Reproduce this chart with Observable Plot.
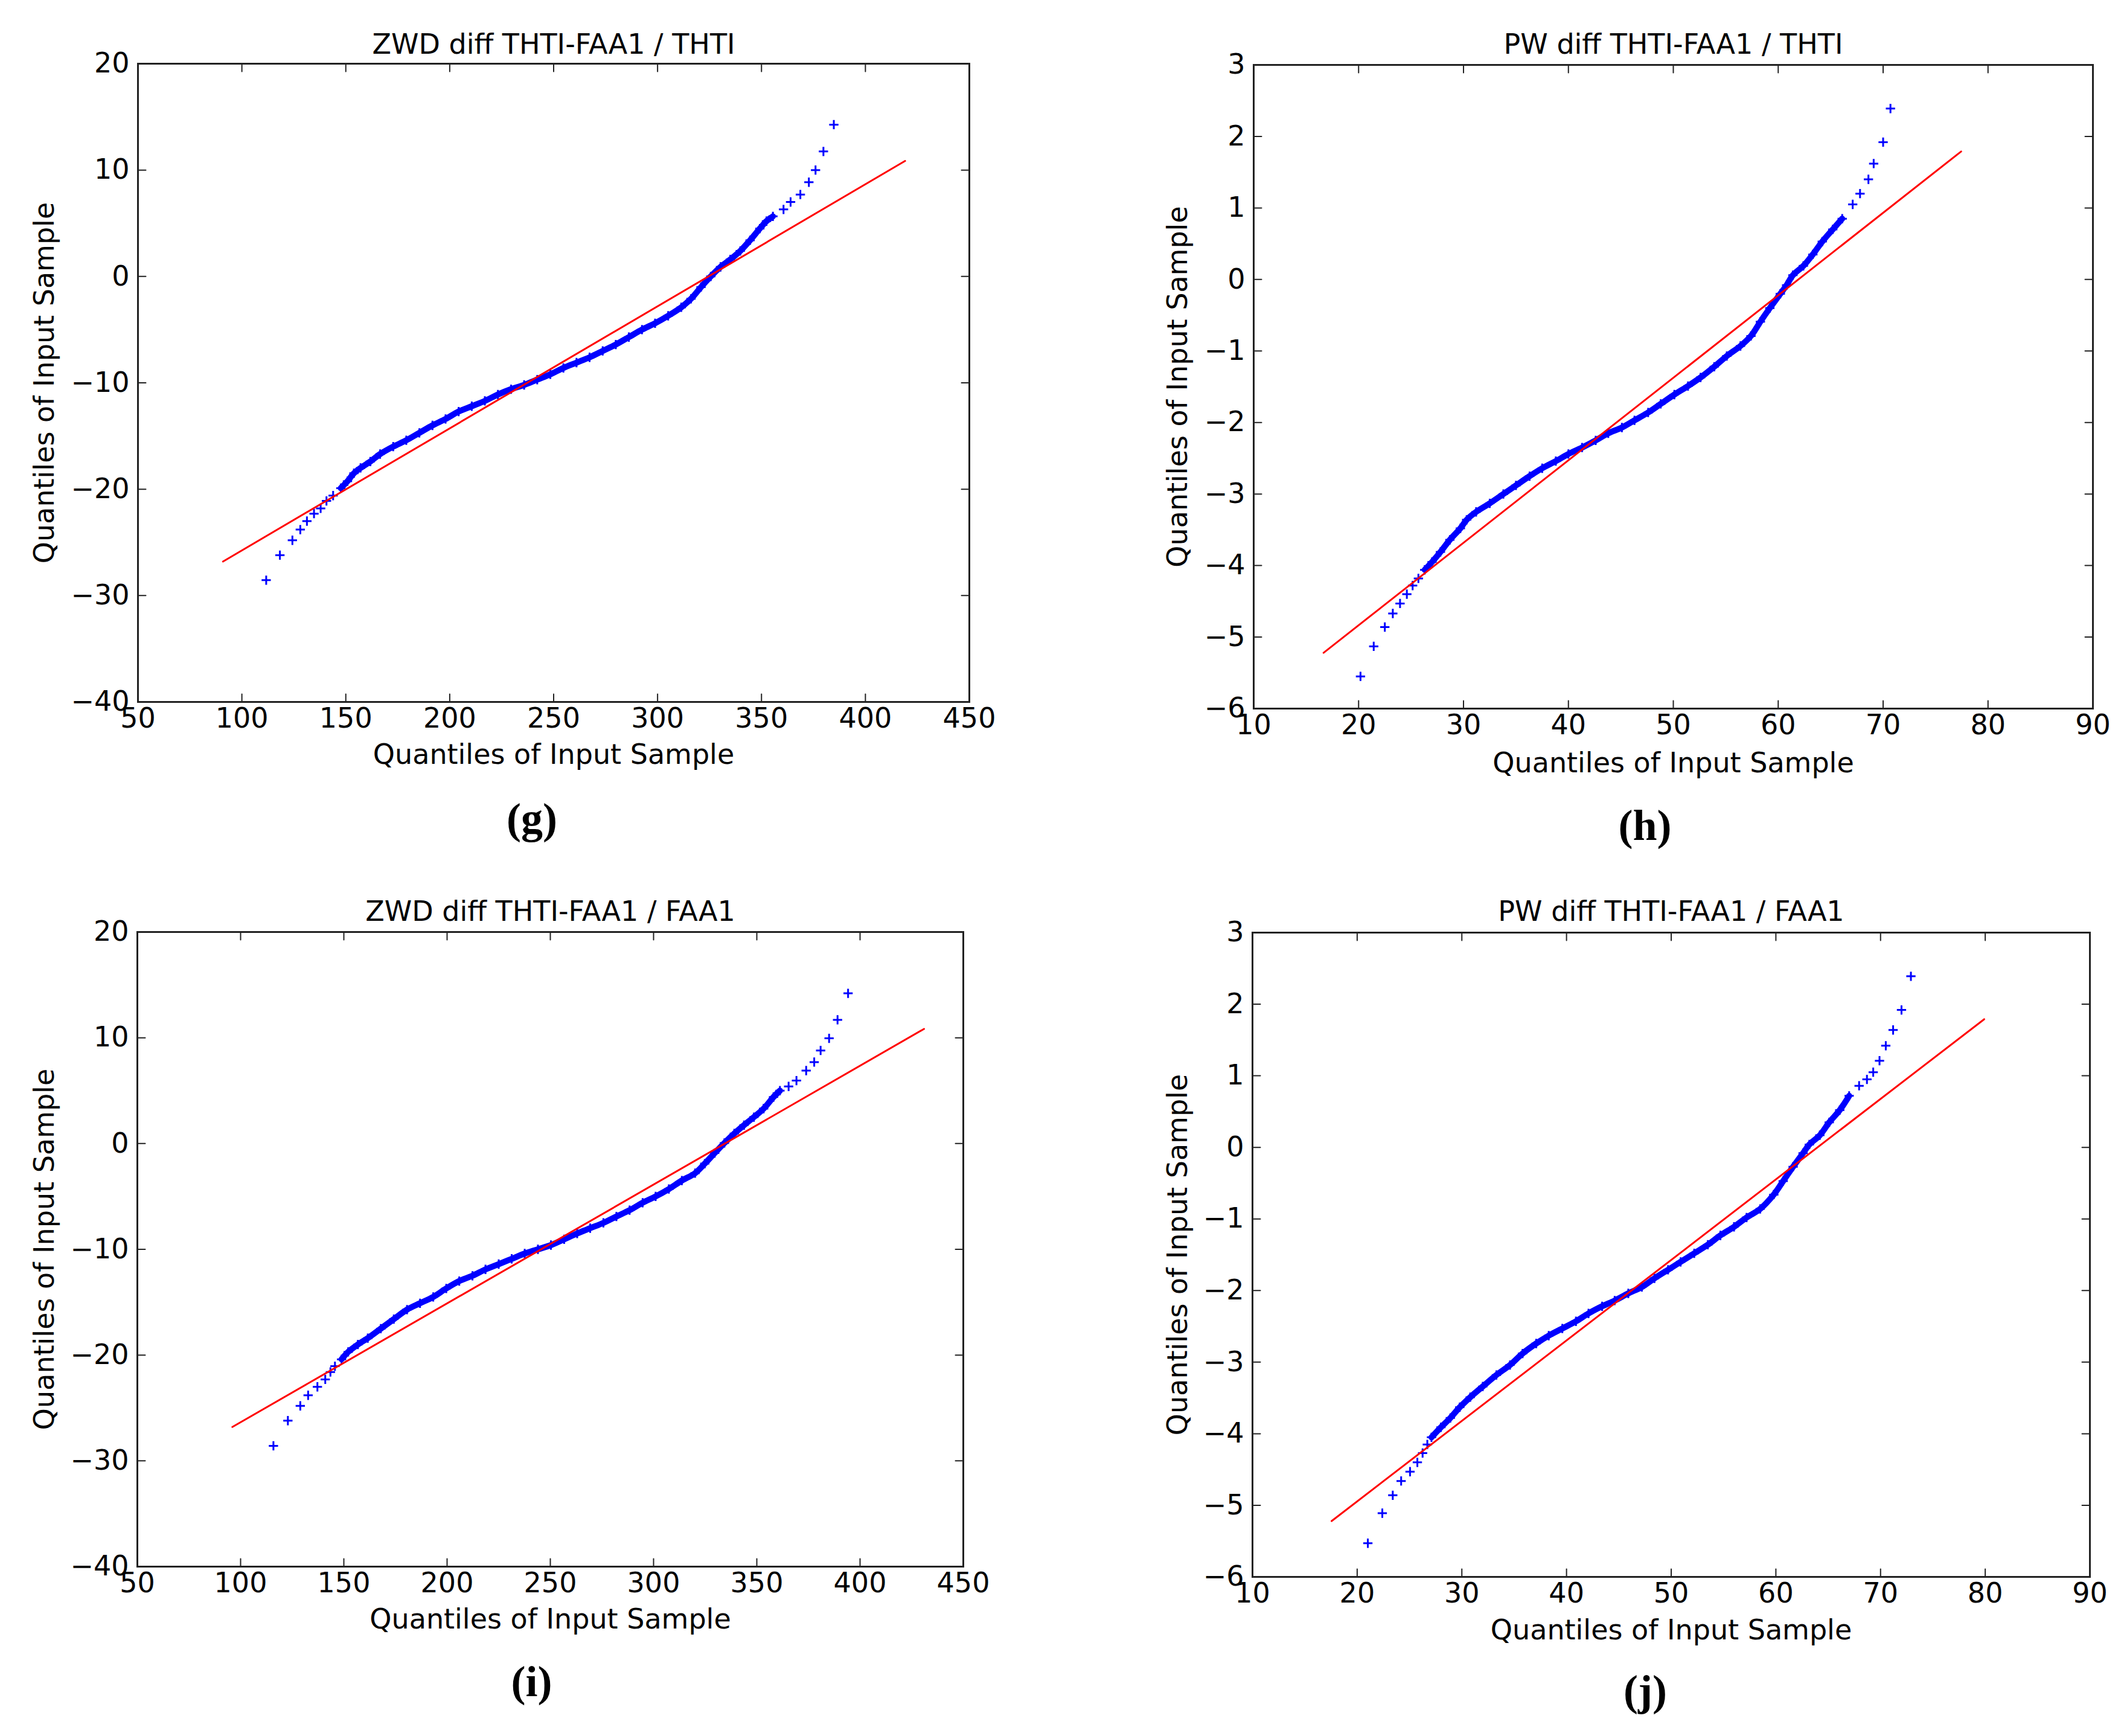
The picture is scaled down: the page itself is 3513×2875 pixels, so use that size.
<!DOCTYPE html>
<html><head><meta charset="utf-8">
<script src="https://cdn.jsdelivr.net/npm/d3@7"></script>
<script src="https://cdn.jsdelivr.net/npm/@observablehq/plot@0.6"></script>
<style>
body{margin:0;background:#fff;}
#page{position:relative;width:3513px;height:2875px;background:#fff;overflow:hidden;}
.panel{position:absolute;}
</style></head><body><div id="page"></div>
<script>
// ---- tick values ----
const zwdXTicks = [50,100,150,200,250,300,350,400,450];
const zwdYTicks = [-40,-30,-20,-10,0,10,20];
const pwXTicks = [10,20,30,40,50,60,70,80,90];
const pwYTicks = [-6,-5,-4,-3,-2,-1,0,1,2,3];

// ---- (g) ZWD / THTI ----
const gLowTail = [[111.7,-28.55],[118.3,-26.2],[124.3,-24.8],[128.1,-23.8],[131.3,-23.0],[134.7,-22.3],[137.9,-21.8],[140.7,-21.1],[143.9,-20.6]];
const gBand = [[147.6,-19.9],[150.8,-19.25],[153.9,-18.5],[157.1,-18.0],[161.8,-17.4],[166.5,-16.7],[172.8,-16.0],[179.1,-15.4],[185.4,-14.7],[191.7,-14.0],[198.0,-13.4],[204.3,-12.7],[210.6,-12.2],[216.9,-11.7],[223.2,-11.1],[229.5,-10.6],[235.8,-10.2],[242.1,-9.7],[248.4,-9.2],[254.7,-8.6],[261.0,-8.1],[267.3,-7.6],[273.6,-7.0],[279.9,-6.4],[286.2,-5.7],[292.5,-5.0],[298.8,-4.4],[305.1,-3.7],[311.4,-2.9],[316.1,-2.1],[320.9,-1.0],[325.6,0.0],[330.3,0.9],[335.0,1.6],[339.8,2.4],[344.5,3.4],[349.2,4.5],[352.4,5.2],[355.5,5.65]];
const gHighTail = [[360.6,6.3],[364.0,7.0],[368.7,7.7],[372.8,8.86],[376.0,10.0],[379.8,11.75],[384.8,14.27]];
const gFit = [[90.9,-26.8],[419.1,10.86]];

// ---- (h) PW / THTI ----
const hLowTail = [[20.18,-5.55],[21.44,-5.13],[22.5,-4.86],[23.26,-4.67],[23.95,-4.53],[24.6,-4.40],[25.15,-4.28],[25.7,-4.18]];
const hBand = [[26.3,-4.06],[27.0,-3.95],[27.8,-3.81],[28.7,-3.64],[29.7,-3.48],[30.3,-3.36],[31.2,-3.25],[32.5,-3.13],[33.8,-3.0],[35.0,-2.88],[36.3,-2.75],[37.5,-2.64],[38.8,-2.54],[40.0,-2.44],[41.3,-2.35],[42.6,-2.25],[43.8,-2.15],[45.1,-2.07],[46.3,-1.97],[47.6,-1.86],[48.8,-1.74],[50.1,-1.61],[51.4,-1.49],[52.6,-1.37],[53.9,-1.22],[55.1,-1.07],[56.4,-0.93],[57.4,-0.79],[58.3,-0.59],[59.2,-0.40],[60.2,-0.2],[60.8,-0.08],[61.4,0.06],[62.4,0.19],[63.3,0.35],[64.2,0.53],[65.2,0.70],[66.1,0.85]];
const hHighTail = [[67.1,1.05],[67.8,1.20],[68.6,1.40],[69.1,1.62],[70.0,1.92],[70.7,2.39]];
const hFit = [[16.66,-5.22],[77.44,1.79]];

// ---- (i) ZWD / FAA1 ----
const iLowTail = [[115.9,-28.58],[122.9,-26.2],[128.9,-24.8],[132.7,-23.8],[137.2,-23.0],[141.0,-22.3],[143.5,-21.6],[145.7,-21.05]];
const iBand = [[148.9,-20.4],[152.1,-19.7],[156.8,-19.0],[161.6,-18.4],[167.9,-17.5],[174.2,-16.6],[180.6,-15.7],[186.9,-15.1],[193.3,-14.5],[199.6,-13.7],[205.9,-13.0],[212.3,-12.5],[218.6,-11.9],[225.0,-11.4],[231.3,-10.9],[237.6,-10.4],[244.0,-10.0],[250.3,-9.6],[256.7,-9.05],[263.0,-8.5],[269.3,-8.0],[275.7,-7.5],[282.0,-6.9],[288.4,-6.3],[294.7,-5.6],[301.0,-5.0],[307.4,-4.3],[313.7,-3.5],[320.1,-2.8],[324.8,-1.9],[329.6,-0.9],[334.3,0.05],[339.1,0.95],[343.8,1.74],[348.6,2.5],[353.3,3.3],[358.1,4.4],[361.2,5.0]];
const iHighTail = [[365.4,5.4],[369.2,5.95],[373.9,6.9],[377.8,7.7],[380.9,8.8],[385.0,9.95],[389.1,11.7],[394.2,14.2]];
const iFit = [[96.0,-26.8],[431.0,10.84]];

// ---- (j) PW / FAA1 ----
const jLowTail = [[21.02,-5.53],[22.4,-5.11],[23.4,-4.86],[24.2,-4.66],[25.05,-4.53],[25.75,-4.40],[26.25,-4.27],[26.7,-4.15]];
const jBand = [[27.1,-4.05],[28.0,-3.91],[28.9,-3.78],[29.8,-3.63],[30.8,-3.49],[32.0,-3.34],[33.3,-3.18],[34.6,-3.04],[35.8,-2.88],[37.1,-2.74],[38.3,-2.63],[39.6,-2.53],[40.9,-2.43],[42.1,-2.32],[43.4,-2.22],[44.6,-2.14],[45.9,-2.04],[47.2,-1.95],[48.4,-1.83],[49.7,-1.71],[50.9,-1.60],[52.2,-1.48],[53.5,-1.36],[54.7,-1.23],[56.0,-1.11],[57.2,-0.98],[58.5,-0.86],[59.8,-0.66],[60.7,-0.47],[61.65,-0.27],[62.6,-0.08],[63.2,0.04],[64.2,0.17],[65.1,0.35],[66.1,0.52],[67.0,0.72]];
const jHighTail = [[67.95,0.86],[68.7,0.95],[69.3,1.05],[69.9,1.21],[70.5,1.42],[71.2,1.64],[72.0,1.92],[72.9,2.39]];
const jFit = [[17.56,-5.22],[79.9,1.79]];

const axisLabel = "Quantiles of Input Sample";

const panels = [
  {title:"ZWD diff THTI-FAA1 / THTI", caption:"(g)", xt:zwdXTicks, yt:zwdYTicks, low:gLowTail, band:gBand, high:gHighTail, fit:gFit,
   left:0, top:0, width:1756, height:1437, m:{marginLeft:228, marginRight:151, marginTop:105, marginBottom:275},
   o:{title:-31, xlab:88, ylab:-154, cap:194, capdx:-36}},
  {title:"PW diff THTI-FAA1 / THTI", caption:"(h)", xt:pwXTicks, yt:pwYTicks, low:hLowTail, band:hBand, high:hHighTail, fit:hFit,
   left:1756, top:0, width:1757, height:1437, m:{marginLeft:320, marginRight:47, marginTop:107, marginBottom:264},
   o:{title:-33, xlab:91, ylab:-125, cap:194, capdx:-47}},
  {title:"ZWD diff THTI-FAA1 / FAA1", caption:"(i)", xt:zwdXTicks, yt:zwdYTicks, low:iLowTail, band:iBand, high:iHighTail, fit:iFit,
   left:0, top:1437, width:1756, height:1438, m:{marginLeft:227, marginRight:161, marginTop:106, marginBottom:281},
   o:{title:-33, xlab:88, ylab:-153, cap:191, capdx:-31}},
  {title:"PW diff THTI-FAA1 / FAA1", caption:"(j)", xt:pwXTicks, yt:pwYTicks, low:jLowTail, band:jBand, high:jHighTail, fit:jFit,
   left:1756, top:1437, width:1757, height:1438, m:{marginLeft:318, marginRight:52, marginTop:107, marginBottom:264},
   o:{title:-34, xlab:89, ylab:-123, cap:189, capdx:-43}}
];

const fmt = d => d < 0 ? "\u2212" + Math.abs(d) : String(d);
const tickShape = {draw(ctx, l) { ctx.moveTo(0, 0); ctx.lineTo(0, -l); }};
const page = document.getElementById("page");

for (const p of panels) {
  const xd = [p.xt[0], p.xt[p.xt.length - 1]];
  const yd = [p.yt[0], p.yt[p.yt.length - 1]];
  const pts = p.low.concat(p.band, p.high);
  const tk = {length: 13, anchor: "start", shape: tickShape, stroke: "#222", strokeWidth: 2};
  const svg = Plot.plot({
    width: p.width, height: p.height, ...p.m,
    style: {fontFamily: "DejaVu Sans", fontSize: "46px", background: "white", color: "black", overflow: "visible"},
    x: {domain: xd},
    y: {domain: yd},
    marks: [
      Plot.axisX(p.xt, {tickSize: 0, tickPadding: 10, tickFormat: fmt, label: null, fontSize: 46}),
      Plot.axisY(p.yt, {tickSize: 0, tickPadding: 14, tickFormat: fmt, label: null, fontSize: 46}),
      Plot.vector(p.xt, {x: d => d, y: yd[0], rotate: 0, ...tk}),
      Plot.vector(p.xt, {x: d => d, y: yd[1], rotate: 180, ...tk}),
      Plot.vector(p.yt, {y: d => d, x: xd[0], rotate: 90, ...tk}),
      Plot.vector(p.yt, {y: d => d, x: xd[1], rotate: -90, ...tk}),
      Plot.line(p.band, {x: d => d[0], y: d => d[1], stroke: "#0000ff", strokeWidth: 10, curve: "catmull-rom"}),
      Plot.dot(pts, {x: d => d[0], y: d => d[1], symbol: "plus", r: 5, stroke: "#0000ff", strokeWidth: 3}),
      Plot.line(p.fit, {x: d => d[0], y: d => d[1], stroke: "#ff0000", strokeWidth: 3}),
      Plot.frame({stroke: "#222", strokeWidth: 3}),
      Plot.text([p.title], {text: d => d, frameAnchor: "top", dy: p.o.title, fontSize: 46, lineAnchor: "middle"}),
      Plot.text([axisLabel], {text: d => d, frameAnchor: "bottom", dy: p.o.xlab, fontSize: 46, lineAnchor: "middle"}),
      Plot.text([axisLabel], {text: d => d, frameAnchor: "left", textAnchor: "middle", dx: p.o.ylab, rotate: -90, fontSize: 46, lineAnchor: "middle"}),
      Plot.text([p.caption], {text: d => d, frameAnchor: "bottom", dy: p.o.cap, dx: p.o.capdx, fontSize: 72, fontWeight: "bold", fontFamily: "Liberation Serif", lineAnchor: "middle"})
    ]
  });
  svg.classList.add("panel");
  svg.style.left = p.left + "px";
  svg.style.top = p.top + "px";
  svg.style.position = "absolute";
  page.appendChild(svg);
}
</script>
</body></html>
